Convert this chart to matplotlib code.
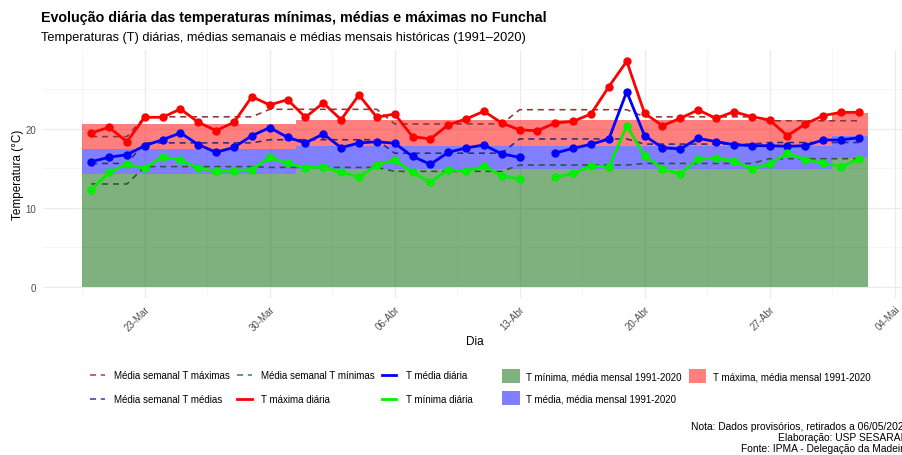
import matplotlib
matplotlib.use('Agg')
import matplotlib.pyplot as plt
import matplotlib.dates as mdates
from matplotlib.lines import Line2D
from matplotlib.patches import Patch
import numpy as np
import pandas as pd

plt.rcParams['font.family'] = ['Liberation Sans', 'DejaVu Sans']

# dados diarios (20-Mar a 02-Mai)
dias = pd.date_range('2020-03-20', '2020-05-02', freq='D')

t_max = [19.46, 20.17, 18.35, 21.44, 21.44, 22.49, 20.81, 19.75, 20.81, 24.05,
         23.0, 23.67, 21.44, 23.25, 21.14, 24.27, 21.44, 21.86, 18.99, 18.7,
         20.47, 21.23, 22.2, 20.72, 19.84, 19.75, 20.72, 20.93, 21.86, 25.32,
         28.53, 21.94, 20.38, 21.31, 22.37, 21.31, 22.15, 21.52, 21.1, 19.11,
         20.59, 21.65, 22.07, 22.07]
t_med = [15.82, 16.38, 16.71, 17.85, 18.61, 19.46, 17.98, 17.01, 17.64, 19.11,
         20.13, 18.91, 18.19, 19.33, 17.6, 18.19, 18.35, 18.15, 16.5, 15.49,
         17.01, 17.56, 17.94, 16.8, 16.38, np.nan, 16.92, 17.52, 18.02, 18.7,
         24.68, 19.11, 17.6, 17.43, 18.78, 18.36, 17.98, 17.85, 17.85, 17.77,
         17.85, 18.57, 18.57, 18.86]
t_min = [12.28, 14.48, 15.49, 14.98, 16.46, 16.04, 15.03, 14.6, 14.68, 14.81,
         16.38, 15.62, 15.03, 15.19, 14.48, 13.89, 15.41, 16.04, 14.48, 13.21,
         14.81, 14.6, 15.24, 14.05, 13.63, np.nan, 13.84, 14.35, 15.32, 15.11,
         20.38, 16.58, 14.9, 14.27, 16.16, 16.25, 15.95, 14.9, 15.53, 16.89,
         16.08, 15.66, 15.19, 16.16]

# medias semanais (semanas de segunda a domingo)
semana_inicio = pd.to_datetime(['2020-03-16', '2020-03-23', '2020-03-30', '2020-04-06',
                                '2020-04-13', '2020-04-20', '2020-04-27'])
sem_max = [19.0, 21.5, 22.45, 20.6, 22.4, 21.5, 21.0]
sem_med = [15.6, 18.2, 18.6, 16.9, 18.7, 18.05, 18.25]
sem_min = [13.0, 15.2, 15.1, 14.6, 15.4, 15.6, 16.2]

# normais mensais 1991-2020
meses = [3, 4, 5]
norm_min = [14.25, 14.95, 16.25]
norm_med = [17.45, 17.85, 19.05]
norm_max = [20.55, 21.05, 22.0]

tick_labels = ['23-Mar', '30-Mar', '06-Abr', '13-Abr', '20-Abr', '27-Abr', '04-Mai']

# ---- preparar
semana_idx = [(d - semana_inicio[0]).days // 7 for d in dias]
sem_max_d = [sem_max[k] for k in semana_idx]
sem_med_d = [sem_med[k] for k in semana_idx]
sem_min_d = [sem_min[k] for k in semana_idx]

mes_idx = [meses.index(d.month) for d in dias]
nmin = np.array([norm_min[k] for k in mes_idx])
nmed = np.array([norm_med[k] for k in mes_idx])
nmax = np.array([norm_max[k] for k in mes_idx])

xnum = mdates.date2num(dias)
edges = np.append(xnum - 0.5, xnum[-1] + 0.5)
nmin_e = np.append(nmin, nmin[-1])
nmed_e = np.append(nmed, nmed[-1])
nmax_e = np.append(nmax, nmax[-1])

fig = plt.figure(figsize=(9.03, 4.56), dpi=100)
ax = fig.add_axes([43 / 903, (456 - 299) / 456, (907 - 43) / 903, (299 - 51) / 456])

ax.fill_between(edges, 0, nmin_e, step='post', color='darkgreen', alpha=0.5, lw=0)
ax.fill_between(edges, nmin_e, nmed_e, step='post', color='blue', alpha=0.5, lw=0)
ax.fill_between(edges, nmed_e, nmax_e, step='post', color='red', alpha=0.5, lw=0)

dash = (0, (3.8, 3.0))
ax.plot(xnum, sem_max_d, color='#8a3838', lw=1.15, linestyle=dash)
ax.plot(xnum, sem_med_d, color='#2e2e7a', lw=1.15, linestyle=dash)
ax.plot(xnum, sem_min_d, color='#2c582c', lw=1.15, linestyle=dash)

ax.plot(xnum, t_max, color='red', lw=2, marker='o', ms=5)
ax.plot(xnum, t_med, color='blue', lw=2, marker='o', ms=5)
ax.plot(xnum, t_min, color='#00f000', lw=2, marker='o', ms=5)

major = mdates.date2num(pd.date_range('2020-03-23', periods=len(tick_labels), freq='7D'))
ax.set_xticks(major)
ax.set_xticklabels(tick_labels)
ax.set_xticks(np.append(major - 3.5, major[-1] + 3.5), minor=True)
ax.set_yticks([0, 10, 20])
ax.set_yticks([5, 15, 25], minor=True)

span = edges[-1] - edges[0]
ax.set_xlim(edges[0] - 0.05 * span, edges[-1] + 0.05 * span)
top = np.nanmax(t_max)
ax.set_ylim(-0.05 * top, top * 1.05)

ax.set_axisbelow(True)
ax.grid(which='major', color='#EBEBEB', lw=0.9)
ax.grid(which='minor', color='#F2F2F2', lw=0.5)
for s in ax.spines.values():
    s.set_visible(False)
ax.tick_params(which='both', length=0)
ax.tick_params(axis='y', labelsize=7, labelcolor='#4D4D4D', pad=5)
ax.tick_params(axis='x', labelsize=7, labelcolor='#4D4D4D', pad=4)
for lab in ax.get_xticklabels():
    lab.set_rotation(45)
    lab.set_ha('right')
    lab.set_rotation_mode('anchor')

ax.set_xlabel('Dia', fontsize=8.5, labelpad=2)
ax.set_ylabel('Temperatura (°C)', fontsize=8.5, labelpad=1)

fig.text(41 / 903, 1 - 18 / 456, 'Evolução diária das temperaturas mínimas, médias e máximas no Funchal',
         fontsize=10.3, fontweight='bold', va='center', ha='left')
fig.text(41 / 903, 1 - 38 / 456,
         'Temperaturas (T) diárias, médias semanais e médias mensais históricas (1991–2020)',
         fontsize=9.2, va='center', ha='left')

fig.text(909 / 903, 1 - 438 / 456,
         'Nota: Dados provisórios, retirados a 06/05/2020\nElaboração: USP SESARAM\nFonte: IPMA - Delegação da Madeira',
         fontsize=7.4, ha='right', va='center', linespacing=1.1)

h_linhas = [
    Line2D([], [], color='#c04040', lw=1.15, linestyle=(0, (3.8, 3.0))),
    Line2D([], [], color='#4040b0', lw=1.15, linestyle=(0, (3.8, 3.0))),
    Line2D([], [], color='#3c8c3c', lw=1.15, linestyle=(0, (3.8, 3.0))),
    Line2D([], [], color='red', lw=2),
    Line2D([], [], color='blue', lw=2),
    Line2D([], [], color='#00f000', lw=2),
]
l_linhas = ['Média semanal T máximas', 'Média semanal T médias', 'Média semanal T mínimas',
            'T máxima diária', 'T média diária', 'T mínima diária']
leg1 = fig.legend(h_linhas, l_linhas, ncol=3, loc='center left',
                  bbox_to_anchor=(90 / 903, 1 - 388 / 456), frameon=False, fontsize=7,
                  handlelength=1.5, handletextpad=1.0, columnspacing=0.7,
                  labelspacing=1.45, borderpad=0, borderaxespad=0)

h_fill = [Patch(color='darkgreen', alpha=0.5, lw=0), Patch(color='blue', alpha=0.5, lw=0),
          Patch(color='red', alpha=0.5, lw=0)]
l_fill = ['T mínima, média mensal 1991-2020', 'T média, média mensal 1991-2020',
          'T máxima, média mensal 1991-2020']
leg2 = fig.legend(h_fill, l_fill, ncol=2, loc='center left',
                  bbox_to_anchor=(502 / 903, 1 - 388 / 456), frameon=False, fontsize=7,
                  handlelength=1.8, handleheight=1.8, handletextpad=0.7, columnspacing=0.7,
                  labelspacing=0.85, borderpad=0, borderaxespad=0)

fig.savefig('out.png', dpi=100)
